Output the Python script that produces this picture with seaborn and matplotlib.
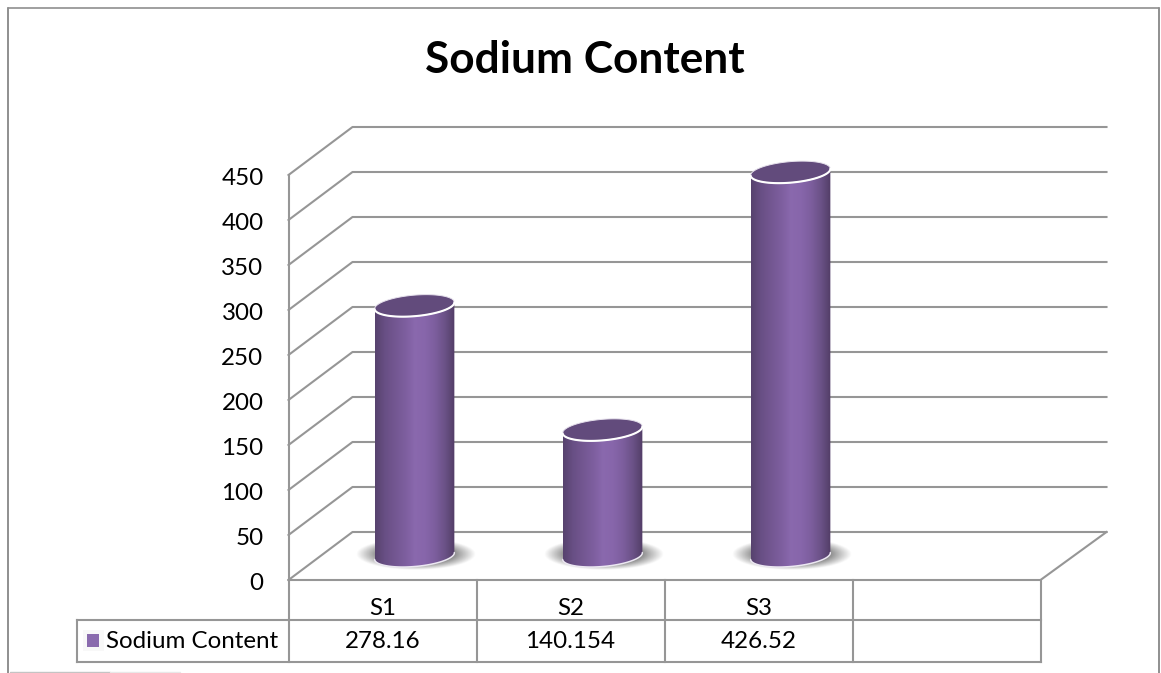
import numpy as np
import pandas as pd
import matplotlib
matplotlib.use("Agg")
import matplotlib.pyplot as plt
from matplotlib.lines import Line2D
from matplotlib.patches import Polygon, Rectangle
from matplotlib.transforms import ScaledTranslation
import seaborn as sns

categories = ["S1", "S2", "S3"]
sodium_values = [278.16, 140.154, 426.52]
value_labels = ["278.16", "140.154", "426.52"]
series_name = "Sodium Content"
y_ticks = [0, 50, 100, 150, 200, 250, 300, 350, 400, 450]

sns.set_theme(style="white")
plt.rcParams["font.family"] = ["Lato", "DejaVu Sans"]

W, H = 1161, 673
GRID = "#969696"
TEXT = "#000000"
SWATCH = "#8a6bae"
CAP = "#624b7c"

fig = plt.figure(figsize=(W / 100, H / 100), dpi=100, facecolor="white")

# plot box of the front plane, in figure pixels
LEFT, RIGHT, FLOOR, TOP = 288.5, 1040.5, 580.0, 175.0
ax = fig.add_axes([LEFT / W, 1 - FLOOR / H, (RIGHT - LEFT) / W, (FLOOR - TOP) / H])
ax.patch.set_alpha(0)

df = pd.DataFrame({"sample": categories, "sodium": sodium_values})
sns.barplot(data=df, x="sample", y="sodium", order=categories + [""],
            width=80 / 188, color=SWATCH, ax=ax, zorder=3)

XMIN, XMAX, YMAX = -0.5, 3.5, 450.0
ax.set_xlim(XMIN, XMAX)
ax.set_ylim(0, YMAX)
px_x = (XMAX - XMIN) / (RIGHT - LEFT)   # data units per pixel
px_y = YMAX / (FLOOR - TOP)
DX_L, DX_R, DY = 64 * px_x, 66 * px_x, 48 * px_y   # depth of the 3-D box


def wire(xs, ys, lw=1.5, color=GRID, z=1):
    ax.add_line(Line2D(xs, ys, color=color, lw=lw, clip_on=False, zorder=z,
                       solid_capstyle="projecting"))


# back wall, side wall and floor
for v in y_ticks:
    wire([XMIN, XMIN + DX_L, XMAX + DX_R], [v, v + DY, v + DY])
wire([XMIN, XMIN], [0, YMAX])
wire([XMIN, XMAX, XMAX + DX_R], [0, 0, DY])


def tilted_ellipse(cx, cy, a, b, angle, t):
    """Ellipse outline given in pixel radii, returned in data units."""
    rad = np.deg2rad(angle)
    ex = a * np.cos(t) * np.cos(rad) - b * np.sin(t) * np.sin(rad)
    ey = a * np.cos(t) * np.sin(rad) + b * np.sin(t) * np.cos(rad)
    return cx + ex * px_x, cy + ey * px_y


# cylinders: each seaborn bar is moved to mid-depth and dressed with shading
shade = np.array([
    [0.34, 0.26, 0.43], [0.41, 0.31, 0.52], [0.45, 0.34, 0.57],
    [0.49, 0.37, 0.62], [0.54, 0.41, 0.68], [0.53, 0.40, 0.67],
    [0.49, 0.37, 0.62], [0.42, 0.32, 0.53], [0.32, 0.24, 0.40],
])
fine = np.linspace(0, 1, 256)
ramp = np.stack([np.interp(fine, np.linspace(0, 1, len(shade)), shade[:, i])
                 for i in range(3)], axis=1)[None, :, :]

RADIUS, MINOR, TILT = 40, 10.5, 5
for bar, value in zip(ax.patches, sodium_values):
    cx = bar.get_x() + bar.get_width() / 2 + DX_L / 2
    base = DY / 2
    bar.set_x(bar.get_x() + DX_L / 2)
    bar.set_y(base)
    bar.set_clip_on(False)

    # soft contact shadow on the floor
    gx, gy = np.meshgrid(np.linspace(-1, 1, 200), np.linspace(-1, 1, 80))
    r = np.hypot(gx, gy)
    rgba = np.zeros((80, 200, 4))
    rgba[..., :3] = 0.38
    rgba[..., 3] = np.clip((1 - r) / 0.42, 0, 1) * 0.85
    ax.imshow(rgba, extent=(cx - 59 * px_x, cx + 61 * px_x,
                            base - 14 * px_y, base + 18 * px_y),
              aspect="auto", origin="lower", zorder=2, clip_on=False,
              interpolation="bilinear")

    top = base + value
    t_front = np.linspace(np.pi, 2 * np.pi, 60)
    ex_b, ey_b = tilted_ellipse(cx, base, RADIUS, MINOR, TILT, t_front)
    ex_t, ey_t = tilted_ellipse(cx, top, RADIUS, MINOR, TILT, t_front)

    outline = np.vstack([np.column_stack([ex_b, ey_b]),
                         np.column_stack([ex_t[::-1], ey_t[::-1]])])
    body = Polygon(outline, closed=True, facecolor="none", edgecolor="none",
                   transform=ax.transData, zorder=4)
    ax.add_patch(body)
    bar.set_visible(False)

    im = ax.imshow(ramp, extent=(cx - RADIUS * px_x, cx + RADIUS * px_x,
                                 base - 14 * px_y, top + 14 * px_y),
                   aspect="auto", zorder=4, interpolation="bilinear")
    im.set_clip_box(fig.bbox)
    im.set_clip_path(body)

    # white rim along the bottom
    ax.add_line(Line2D(ex_b, ey_b, color="#ece8f2", lw=1.1, zorder=5, clip_on=False))

    # top cap with a faint back edge and a bright front rim
    t_all = np.linspace(0, 2 * np.pi, 120)
    ex_c, ey_c = tilted_ellipse(cx, top, RADIUS, MINOR, TILT, t_all)
    ax.add_patch(Polygon(np.column_stack([ex_c, ey_c]), closed=True,
                         facecolor=CAP, edgecolor="#e6e1ec", lw=0.7,
                         zorder=6, clip_on=False))
    ax.add_line(Line2D(ex_t, ey_t, color="white", lw=1.5, zorder=7, clip_on=False))

ax.set_xlim(XMIN, XMAX)
ax.set_ylim(0, YMAX)

ax.set_xlabel("")
ax.set_ylabel("")
ax.set_xticks([])
ax.set_yticks(y_ticks)
ax.tick_params(axis="y", length=0, pad=18, labelsize=17.4, labelcolor=TEXT)
for label in ax.get_yticklabels():
    label.set_verticalalignment("center")
    label.set_transform(label.get_transform() + ScaledTranslation(0, -2.2 / 72, fig.dpi_scale_trans))
sns.despine(ax=ax, left=True, bottom=True, right=True, top=True)

# data table underneath the plot
ROW1 = -40 * px_y
ROW2 = -82 * px_y
LEG_LEFT = XMIN - 212 * px_x
positions = np.arange(len(categories) + 1)
for edge in np.arange(XMIN, XMAX + 0.5, 1.0):
    wire([edge, edge], [0, ROW2])
wire([XMIN, XMAX], [ROW1, ROW1])
wire([LEG_LEFT, XMAX], [ROW2, ROW2])
wire([LEG_LEFT, XMIN], [ROW1, ROW1])
wire([LEG_LEFT, LEG_LEFT], [ROW1, ROW2])

for pos, cat, lab in zip(positions, categories, value_labels):
    ax.text(pos, -28.5 * px_y, cat, ha="center", va="center", fontsize=17.4, color=TEXT, clip_on=False)
    ax.text(pos, -61.5 * px_y, lab, ha="center", va="center", fontsize=17.4, color=TEXT, clip_on=False)

ax.add_patch(Rectangle((XMIN - 206 * px_x, -71 * px_y), 21 * px_x, 21 * px_y,
                       facecolor="#f8f8f8", edgecolor="none", clip_on=False, zorder=2))
ax.add_patch(Rectangle((XMIN - 202 * px_x, -67 * px_y), 13 * px_x, 13 * px_y,
                       facecolor=SWATCH, edgecolor="none", clip_on=False, zorder=3))
ax.text(XMIN - 182 * px_x, -61.5 * px_y, series_name, ha="left", va="center",
        fontsize=17.4, color=TEXT, clip_on=False)

# chart title
fig.text(584.5 / W, 1 - 60 / H, series_name, ha="center", va="center",
         fontsize=31.8, fontweight="bold", color=TEXT)


# outer chart border, with the faint remnant along the bottom
def frame(x0, y0, x1, y1, color="#8f8f8f", lw=1.4):
    fig.add_artist(Line2D([x0 / W, x1 / W], [1 - y0 / H, 1 - y1 / H], color=color, lw=lw))


frame(8, 8, 1159, 8, lw=1.2)
frame(8, 8, 8, 673)
frame(1159, 8, 1159, 673)
frame(10, 672, 110, 672, color="#c4c4c4", lw=1.0)
frame(110, 672, 180, 672, color="#e8e8e8", lw=1.0)

fig.savefig("out.png", dpi=100, facecolor="white")
